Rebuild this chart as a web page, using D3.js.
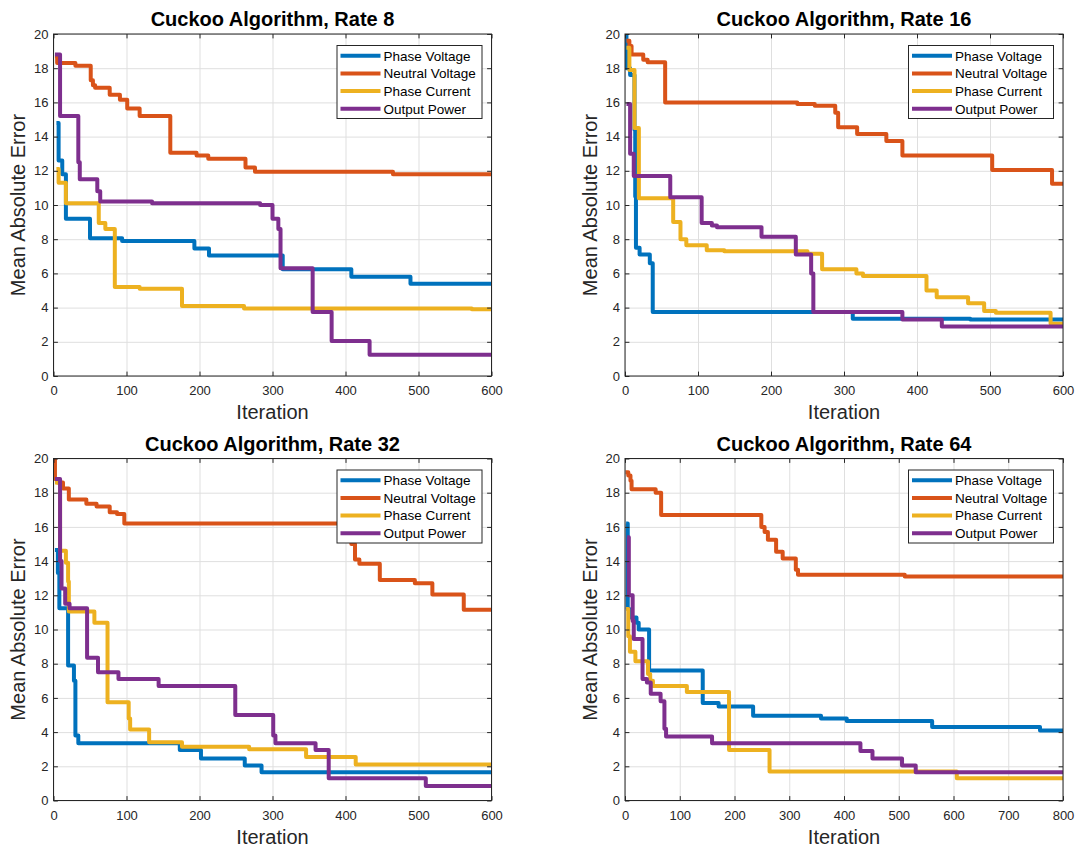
<!DOCTYPE html>
<html>
<head>
<meta charset="utf-8">
<script src="https://cdn.jsdelivr.net/npm/d3@7"></script>
<style>
  html, body { margin: 0; padding: 0; background: #fff; }
  svg { display: block; font-family: "Liberation Sans", Arial, Helvetica, sans-serif; }
</style>
</head>
<body>
<svg id="chart" width="1075" height="848"></svg>
<script>
// ---- data: [iteration, mean absolute error] breakpoints of each best-so-far curve ----
const seriesNames = ["Phase Voltage", "Neutral Voltage", "Phase Current", "Output Power"];
const seriesColors = ["#0072BD", "#D95319", "#EDB120", "#7E2F8E"];
const panelTitles = ["Cuckoo Algorithm, Rate 8", "Cuckoo Algorithm, Rate 16",
                     "Cuckoo Algorithm, Rate 32", "Cuckoo Algorithm, Rate 64"];
const iterTicks600 = [0, 100, 200, 300, 400, 500, 600];
const iterTicks800 = [0, 100, 200, 300, 400, 500, 600, 700, 800];
const errorTicks = [0, 2, 4, 6, 8, 10, 12, 14, 16, 18, 20];

// Rate 8
const r8PhaseVoltage = [[4,14.8],[7,12.6],[12,11.8],[17,9.2],[50,8.05],[94,7.9],[193,7.45],[213,7.05],[314,6.25],[408,5.8],[489,5.4],[600,5.4]];
const r8NeutralVoltage = [[2,18.7],[5,18.3],[30,18.15],[51,17.3],[54,17.0],[57,16.85],[77,16.45],[91,16.15],[101,15.65],[118,15.2],[160,13.05],[196,12.9],[212,12.7],[263,12.2],[276,11.95],[465,11.8],[600,11.8]];
const r8PhaseCurrent = [[4,12.1],[7,11.3],[17,10.1],[62,8.95],[71,8.6],[84,5.2],[118,5.1],[176,4.1],[261,3.95],[573,3.9],[600,3.9]];
const r8OutputPower = [[2,18.8],[9,15.2],[34,12.5],[36,11.5],[60,10.8],[64,10.2],[135,10.1],[283,10.0],[300,9.2],[308,8.6],[311,6.3],[355,3.75],[381,2.05],[433,1.25],[600,1.25]];

// Rate 16
const r16PhaseVoltage = [[1,20.5],[2,18.0],[7,17.6],[13,14.4],[14,10.5],[15,7.5],[20,7.1],[34,6.6],[38,3.75],[312,3.35],[473,3.3],[600,3.3]];
const r16NeutralVoltage = [[2,19.6],[6,19.3],[9,18.8],[25,18.5],[31,18.35],[55,16.0],[236,15.9],[260,15.8],[288,15.4],[292,14.55],[318,14.15],[358,13.75],[380,12.9],[503,12.05],[585,11.25],[600,11.25]];
const r16PhaseCurrent = [[2,19.2],[6,17.9],[13,14.5],[19,10.4],[66,9.0],[76,8.0],[84,7.65],[112,7.35],[136,7.3],[250,7.15],[270,6.25],[317,6.0],[326,5.85],[413,5.0],[427,4.6],[470,4.25],[492,3.8],[508,3.7],[583,3.05],[600,3.05]];
const r16OutputPower = [[2,15.9],[7,13.0],[12,11.7],[62,10.45],[105,8.95],[119,8.8],[126,8.7],[187,8.15],[234,7.1],[255,6.0],[258,3.75],[380,3.3],[434,2.9],[600,2.9]];

// Rate 32
const r32PhaseVoltage = [[2,14.65],[6,13.3],[8,11.25],[20,7.9],[28,7.0],[30,3.8],[34,3.35],[173,2.95],[202,2.45],[262,2.05],[285,1.65],[600,1.65]];
const r32NeutralVoltage = [[1,20.5],[2,18.8],[5,18.6],[13,18.25],[21,17.6],[45,17.35],[59,17.2],[77,16.85],[87,16.75],[97,16.2],[400,15.6],[408,15.0],[413,14.1],[419,13.85],[447,12.9],[495,12.7],[519,12.05],[562,11.15],[600,11.15]];
const r32PhaseCurrent = [[2,18.6],[9,14.6],[17,13.9],[20,12.8],[21,11.05],[56,10.4],[74,5.75],[103,4.8],[105,4.15],[131,3.4],[176,3.15],[268,3.0],[346,2.55],[414,2.1],[600,2.1]];
const r32OutputPower = [[2,18.8],[9,14.0],[11,12.4],[16,11.5],[22,11.25],[46,8.35],[61,7.5],[89,7.1],[144,6.7],[249,5.0],[301,3.8],[304,3.35],[359,2.95],[377,1.3],[510,0.85],[600,0.85]];

// Rate 64
const r64PhaseVoltage = [[2,16.2],[5,11.2],[8,10.7],[21,10.4],[25,10.0],[44,7.6],[142,5.7],[171,5.5],[234,4.95],[358,4.8],[405,4.65],[561,4.3],[758,4.1],[800,4.1]];
const r64NeutralVoltage = [[1,19.2],[6,19.0],[10,18.7],[12,18.2],[56,18.0],[66,16.7],[249,16.0],[255,15.7],[261,15.25],[276,14.55],[288,14.15],[312,13.5],[316,13.2],[511,13.1],[800,13.1]];
const r64PhaseCurrent = [[2,11.2],[6,9.6],[9,8.7],[19,8.15],[42,7.4],[46,7.0],[51,6.7],[113,6.35],[190,2.95],[264,1.7],[606,1.3],[800,1.3]];
const r64OutputPower = [[4,15.4],[7,12.0],[14,10.5],[16,9.45],[32,7.1],[40,6.9],[47,6.25],[65,5.8],[72,4.2],[75,3.75],[159,3.35],[430,2.9],[452,2.45],[506,2.05],[531,1.65],[800,1.65]];

const panels = [
  { title: panelTitles[0], xTicks: iterTicks600, series: [r8PhaseVoltage, r8NeutralVoltage, r8PhaseCurrent, r8OutputPower] },
  { title: panelTitles[1], xTicks: iterTicks600, series: [r16PhaseVoltage, r16NeutralVoltage, r16PhaseCurrent, r16OutputPower] },
  { title: panelTitles[2], xTicks: iterTicks600, series: [r32PhaseVoltage, r32NeutralVoltage, r32PhaseCurrent, r32OutputPower] },
  { title: panelTitles[3], xTicks: iterTicks800, series: [r64PhaseVoltage, r64NeutralVoltage, r64PhaseCurrent, r64OutputPower] }
];

// ---- layout ----
const svg = d3.select("#chart");
const colLeft = [53.5, 625];
const rowTop = [34, 458.5];
const W = 438, H = 342;
const axisColor = "#262626";
const gridColor = "#dfdfdf";
const tickLen = 4.4;

panels.forEach((p, i) => {
  const left = colLeft[i % 2];
  const top = rowTop[Math.floor(i / 2)];
  const xMax = p.xTicks[p.xTicks.length - 1];
  const x = d3.scaleLinear().domain([0, xMax]).range([left, left + W]);
  const y = d3.scaleLinear().domain([0, 20]).range([top + H, top]);

  const g = svg.append("g");

  // grid
  const gridX = g.append("g").attr("transform", `translate(0,${top + H})`)
    .call(d3.axisBottom(x).tickValues(p.xTicks).tickSize(-H).tickFormat(""));
  const gridY = g.append("g").attr("transform", `translate(${left},0)`)
    .call(d3.axisLeft(y).tickValues(errorTicks).tickSize(-W).tickFormat(""));
  [gridX, gridY].forEach(a => {
    a.select(".domain").remove();
    a.selectAll("line").attr("stroke", gridColor).attr("stroke-width", 1);
  });

  // clipped data lines
  const clipId = "clip" + i;
  svg.append("clipPath").attr("id", clipId)
    .append("rect").attr("x", left).attr("y", top).attr("width", W).attr("height", H);
  const line = d3.line().curve(d3.curveStepAfter).x(d => x(d[0])).y(d => y(d[1]));
  const lg = g.append("g").attr("clip-path", `url(#${clipId})`);
  p.series.forEach((s, k) => {
    lg.append("path").datum(s)
      .attr("d", line)
      .attr("fill", "none")
      .attr("stroke", seriesColors[k])
      .attr("stroke-width", 4)
      .attr("stroke-linejoin", "round")
      .attr("stroke-linecap", "butt");
  });

  // axes with inward ticks
  const axB = g.append("g").attr("transform", `translate(0,${top + H})`)
    .call(d3.axisBottom(x).tickValues(p.xTicks).tickSizeInner(-tickLen).tickSizeOuter(0).tickPadding(10));
  const axL = g.append("g").attr("transform", `translate(${left},0)`)
    .call(d3.axisLeft(y).tickValues(errorTicks).tickSizeInner(-tickLen).tickSizeOuter(0).tickPadding(5));
  const axT = g.append("g").attr("transform", `translate(0,${top})`)
    .call(d3.axisTop(x).tickValues(p.xTicks).tickSizeInner(-tickLen).tickSizeOuter(0).tickFormat(""));
  const axR = g.append("g").attr("transform", `translate(${left + W},0)`)
    .call(d3.axisRight(y).tickValues(errorTicks).tickSizeInner(-tickLen).tickSizeOuter(0).tickFormat(""));
  [axB, axL, axT, axR].forEach(a => {
    a.select(".domain").remove();
    a.selectAll("line").attr("stroke", axisColor);
    a.selectAll("text").attr("fill", axisColor).style("font-size", "13px")
      .style("font-family", "'Liberation Sans', Arial, sans-serif");
  });

  // box
  g.append("rect")
    .attr("x", left).attr("y", top).attr("width", W).attr("height", H)
    .attr("fill", "none").attr("stroke", axisColor).attr("stroke-width", 1);

  // title
  g.append("text")
    .attr("x", left + W / 2).attr("y", top - 8)
    .attr("text-anchor", "middle")
    .style("font-size", "20px").style("font-weight", "bold")
    .attr("fill", "#000")
    .text(p.title);

  // axis labels
  g.append("text")
    .attr("x", left + W / 2).attr("y", top + H + 43)
    .attr("text-anchor", "middle")
    .style("font-size", "20px").attr("fill", axisColor)
    .text("Iteration");
  g.append("text")
    .attr("transform", `translate(${left - 28.5},${top + H / 2}) rotate(-90)`)
    .attr("text-anchor", "middle")
    .style("font-size", "20px").attr("fill", axisColor)
    .text("Mean Absolute Error");

  // legend
  const bx = left + W - 155, by = top + 11, bw = 145, bh = 73;
  const leg = g.append("g");
  leg.append("rect")
    .attr("x", bx + 0.5).attr("y", by + 0.5).attr("width", bw).attr("height", bh)
    .attr("fill", "#fff").attr("stroke", axisColor).attr("stroke-width", 1);
  seriesNames.forEach((name, k) => {
    const ry = by + 10.7 + k * 17.7;
    leg.append("line")
      .attr("x1", bx + 4).attr("x2", bx + 44).attr("y1", ry).attr("y2", ry)
      .attr("stroke", seriesColors[k]).attr("stroke-width", 4);
    leg.append("text")
      .attr("x", bx + 47).attr("y", ry).attr("dy", "0.36em")
      .style("font-size", "13.5px").attr("fill", "#000")
      .text(name);
  });
});
</script>
</body>
</html>
